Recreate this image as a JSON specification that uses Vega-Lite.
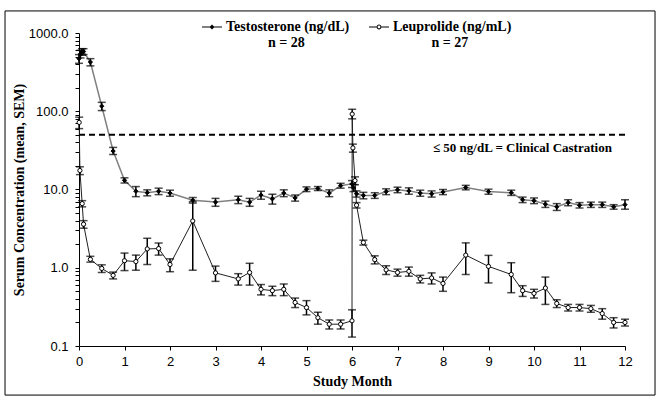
{
  "$schema": "https://vega.github.io/schema/vega-lite/v6.json",
  "width": 546,
  "height": 313,
  "autosize": {"type": "none"},
  "padding": {"left": 79, "top": 33, "right": 46, "bottom": 58},
  "background": "white",
  "config": {"view": {"stroke": null}, "font": "Liberation Serif"},
  "datasets": {"pk": [
    {"s":"T","m":0,"v":470,"lo":410,"hi":530},
    {"s":"T","m":0.033,"v":540,"lo":480,"hi":600},
    {"s":"T","m":0.066,"v":575,"lo":520,"hi":630},
    {"s":"T","m":0.1,"v":580,"lo":530,"hi":630},
    {"s":"T","m":0.25,"v":425,"lo":380,"hi":470},
    {"s":"T","m":0.5,"v":116,"lo":102,"hi":130},
    {"s":"T","m":0.75,"v":31,"lo":28,"hi":34.5},
    {"s":"T","m":1.0,"v":13.1,"lo":12.1,"hi":14.1},
    {"s":"T","m":1.25,"v":9.5,"lo":8.1,"hi":10.9},
    {"s":"T","m":1.5,"v":9.1,"lo":8.3,"hi":9.9},
    {"s":"T","m":1.75,"v":9.5,"lo":8.6,"hi":10.4},
    {"s":"T","m":2.0,"v":9.0,"lo":8.2,"hi":9.8},
    {"s":"T","m":2.5,"v":7.3,"lo":6.7,"hi":7.9},
    {"s":"T","m":3.0,"v":6.9,"lo":6.1,"hi":7.7},
    {"s":"T","m":3.5,"v":7.4,"lo":6.6,"hi":8.2},
    {"s":"T","m":3.75,"v":6.9,"lo":6.1,"hi":7.7},
    {"s":"T","m":4.0,"v":8.5,"lo":7.5,"hi":9.5},
    {"s":"T","m":4.25,"v":7.6,"lo":6.5,"hi":8.7},
    {"s":"T","m":4.5,"v":9.0,"lo":8.1,"hi":9.9},
    {"s":"T","m":4.75,"v":7.8,"lo":7.1,"hi":8.5},
    {"s":"T","m":5.0,"v":10.1,"lo":9.4,"hi":10.8},
    {"s":"T","m":5.25,"v":10.3,"lo":9.7,"hi":10.9},
    {"s":"T","m":5.5,"v":9.0,"lo":8.1,"hi":9.9},
    {"s":"T","m":5.75,"v":11.2,"lo":10.4,"hi":12.0},
    {"s":"T","m":6.0,"v":11.8,"lo":10.6,"hi":13.0},
    {"s":"T","m":6.033,"v":10.5,"lo":9.4,"hi":11.6},
    {"s":"T","m":6.1,"v":8.8,"lo":8.0,"hi":9.6},
    {"s":"T","m":6.25,"v":8.4,"lo":7.6,"hi":9.2},
    {"s":"T","m":6.5,"v":8.4,"lo":7.7,"hi":9.1},
    {"s":"T","m":6.75,"v":9.4,"lo":8.6,"hi":10.2},
    {"s":"T","m":7.0,"v":9.9,"lo":9.1,"hi":10.7},
    {"s":"T","m":7.25,"v":9.6,"lo":8.7,"hi":10.5},
    {"s":"T","m":7.5,"v":9.0,"lo":8.2,"hi":9.8},
    {"s":"T","m":7.75,"v":8.8,"lo":8.0,"hi":9.6},
    {"s":"T","m":8.0,"v":9.3,"lo":8.6,"hi":10.0},
    {"s":"T","m":8.5,"v":10.6,"lo":9.9,"hi":11.3},
    {"s":"T","m":9.0,"v":9.4,"lo":8.7,"hi":10.1},
    {"s":"T","m":9.5,"v":9.1,"lo":8.4,"hi":9.8},
    {"s":"T","m":9.75,"v":7.4,"lo":6.8,"hi":8.0},
    {"s":"T","m":10.0,"v":7.2,"lo":6.6,"hi":7.8},
    {"s":"T","m":10.25,"v":6.5,"lo":5.9,"hi":7.1},
    {"s":"T","m":10.5,"v":6.0,"lo":5.4,"hi":6.6},
    {"s":"T","m":10.75,"v":6.8,"lo":6.2,"hi":7.4},
    {"s":"T","m":11.0,"v":6.3,"lo":5.8,"hi":6.8},
    {"s":"T","m":11.25,"v":6.4,"lo":5.9,"hi":6.9},
    {"s":"T","m":11.5,"v":6.4,"lo":5.9,"hi":6.9},
    {"s":"T","m":11.75,"v":6.0,"lo":5.6,"hi":6.4},
    {"s":"T","m":12.0,"v":6.4,"lo":5.6,"hi":7.4},
    {"s":"L","m":0.004,"v":72,"lo":60,"hi":84},
    {"s":"L","m":0.02,"v":17.5,"lo":15.5,"hi":19.5},
    {"s":"L","m":0.07,"v":6.6,"lo":6.0,"hi":7.2},
    {"s":"L","m":0.1,"v":3.6,"lo":3.2,"hi":4.0},
    {"s":"L","m":0.25,"v":1.28,"lo":1.18,"hi":1.4},
    {"s":"L","m":0.5,"v":0.98,"lo":0.87,"hi":1.09},
    {"s":"L","m":0.75,"v":0.8,"lo":0.72,"hi":0.88},
    {"s":"L","m":1.0,"v":1.23,"lo":0.92,"hi":1.54},
    {"s":"L","m":1.25,"v":1.2,"lo":0.93,"hi":1.45},
    {"s":"L","m":1.5,"v":1.74,"lo":1.1,"hi":2.38},
    {"s":"L","m":1.75,"v":1.76,"lo":1.45,"hi":2.07},
    {"s":"L","m":2.0,"v":1.1,"lo":0.89,"hi":1.3},
    {"s":"L","m":2.5,"v":3.96,"lo":0.93,"hi":6.99},
    {"s":"L","m":3.0,"v":0.86,"lo":0.67,"hi":1.05},
    {"s":"L","m":3.5,"v":0.72,"lo":0.6,"hi":0.84},
    {"s":"L","m":3.75,"v":0.87,"lo":0.6,"hi":1.14},
    {"s":"L","m":4.0,"v":0.53,"lo":0.45,"hi":0.61},
    {"s":"L","m":4.25,"v":0.51,"lo":0.44,"hi":0.58},
    {"s":"L","m":4.5,"v":0.53,"lo":0.44,"hi":0.62},
    {"s":"L","m":4.75,"v":0.36,"lo":0.31,"hi":0.41},
    {"s":"L","m":5.0,"v":0.31,"lo":0.25,"hi":0.38},
    {"s":"L","m":5.25,"v":0.23,"lo":0.19,"hi":0.27},
    {"s":"L","m":5.5,"v":0.19,"lo":0.165,"hi":0.215},
    {"s":"L","m":5.75,"v":0.19,"lo":0.165,"hi":0.215},
    {"s":"L","m":6.0,"v":0.21,"lo":0.13,"hi":0.29},
    {"s":"L","m":6.004,"v":92,"lo":80,"hi":106},
    {"s":"L","m":6.02,"v":34,"lo":30,"hi":38},
    {"s":"L","m":6.066,"v":13,"lo":11.5,"hi":14.5},
    {"s":"L","m":6.1,"v":6.3,"lo":5.8,"hi":6.8},
    {"s":"L","m":6.25,"v":2.1,"lo":1.95,"hi":2.25},
    {"s":"L","m":6.5,"v":1.27,"lo":1.12,"hi":1.42},
    {"s":"L","m":6.75,"v":0.94,"lo":0.82,"hi":1.06},
    {"s":"L","m":7.0,"v":0.87,"lo":0.78,"hi":0.96},
    {"s":"L","m":7.25,"v":0.9,"lo":0.78,"hi":1.02},
    {"s":"L","m":7.5,"v":0.72,"lo":0.64,"hi":0.8},
    {"s":"L","m":7.75,"v":0.74,"lo":0.62,"hi":0.86},
    {"s":"L","m":8.0,"v":0.63,"lo":0.5,"hi":0.76},
    {"s":"L","m":8.5,"v":1.45,"lo":0.82,"hi":2.08},
    {"s":"L","m":9.0,"v":1.04,"lo":0.64,"hi":1.44},
    {"s":"L","m":9.5,"v":0.82,"lo":0.48,"hi":1.16},
    {"s":"L","m":9.75,"v":0.51,"lo":0.43,"hi":0.59},
    {"s":"L","m":10.0,"v":0.47,"lo":0.41,"hi":0.53},
    {"s":"L","m":10.25,"v":0.55,"lo":0.34,"hi":0.76},
    {"s":"L","m":10.5,"v":0.35,"lo":0.31,"hi":0.39},
    {"s":"L","m":10.75,"v":0.31,"lo":0.28,"hi":0.34},
    {"s":"L","m":11.0,"v":0.31,"lo":0.28,"hi":0.34},
    {"s":"L","m":11.25,"v":0.3,"lo":0.27,"hi":0.33},
    {"s":"L","m":11.5,"v":0.26,"lo":0.22,"hi":0.3},
    {"s":"L","m":11.75,"v":0.2,"lo":0.17,"hi":0.23},
    {"s":"L","m":12.0,"v":0.2,"lo":0.18,"hi":0.22}
  ]},
  "layer": [
    {
      "data": {"name": "pk"},
      "transform": [{"filter": "datum.s == 'T'"}],
      "mark": {"type": "line", "stroke": "#808080", "strokeWidth": 1.5},
      "encoding": {
        "x": {
          "field": "m", "type": "quantitative",
          "scale": {"domain": [0, 12], "nice": false, "zero": false},
          "axis": {
            "title": "Study Month", "values": [0,1,2,3,4,5,6,7,8,9,10,11,12], "grid": false,
            "domainColor": "black", "tickColor": "black", "tickSize": 4, "labelFlush": false,
            "labelFont": "Liberation Sans", "labelFontSize": 13, "labelColor": "black", "labelPadding": 5,
            "titleFont": "Liberation Serif", "titleFontSize": 14, "titleFontWeight": "bold", "titleColor": "black", "titlePadding": 6
          }
        },
        "y": {
          "field": "v", "type": "quantitative",
          "scale": {"type": "log", "domain": [0.1, 1000], "nice": false},
          "axis": {
            "title": "Serum Concentration (mean, SEM)", "grid": false,
            "values": [0.1,0.2,0.3,0.4,0.5,0.6,0.7,0.8,0.9,1,2,3,4,5,6,7,8,9,10,20,30,40,50,60,70,80,90,100,200,300,400,500,600,700,800,900,1000],
            "labelExpr": "(abs(log(datum.value)/LN10 - round(log(datum.value)/LN10)) < 0.0001) ? format(datum.value, '.1f') : ''",
            "labelOverlap": false, "labelBound": false,
            "domainColor": "black", "tickColor": "black", "tickSize": 4,
            "labelFont": "Liberation Sans", "labelFontSize": 13, "labelColor": "black", "labelPadding": 7,
            "titleFont": "Liberation Serif", "titleFontSize": 14, "titleFontWeight": "bold", "titleColor": "black",
            "titleAngle": -90, "titleX": -60, "titleY": 156.5, "titleBaseline": "middle", "titleAlign": "center"
          }
        }
      }
    },
    {
      "data": {"name": "pk"},
      "transform": [{"filter": "datum.s == 'L'"}],
      "mark": {"type": "line", "stroke": "#202020", "strokeWidth": 1},
      "encoding": {"x": {"field": "m", "type": "quantitative"}, "y": {"field": "v", "type": "quantitative"}}
    },
    {
      "data": {"values": [{}]},
      "mark": {"type": "rect", "fill": null, "stroke": "black", "strokeWidth": 1, "clip": false},
      "encoding": {
        "x": {"datum": -1.626}, "x2": {"datum": 12.66},
        "y": {"datum": 1914}, "y2": {"datum": 0.0236}
      }
    },
    {
      "data": {"values": [{}]},
      "mark": {"type": "rule", "color": "black", "strokeWidth": 2, "strokeDash": [6, 4]},
      "encoding": {"y": {"datum": 50}}
    },
    {
      "data": {"values": [{}]},
      "mark": {"type": "text", "text": "≤ 50 ng/dL = Clinical Castration", "align": "left", "baseline": "middle", "font": "Liberation Serif", "fontSize": 13, "fontWeight": "bold", "color": "black"},
      "encoding": {"x": {"datum": 7.78}, "y": {"datum": 33.6}}
    },
    {
      "data": {"name": "pk"},
      "mark": {"type": "rule", "color": "black", "strokeWidth": 1.5},
      "encoding": {"x": {"field": "m", "type": "quantitative"}, "y": {"field": "lo", "type": "quantitative"}, "y2": {"field": "hi"}}
    },
    {
      "data": {"name": "pk"},
      "mark": {"type": "tick", "orient": "horizontal", "size": 8, "thickness": 1.5, "color": "black"},
      "encoding": {"x": {"field": "m", "type": "quantitative"}, "y": {"field": "lo", "type": "quantitative"}}
    },
    {
      "data": {"name": "pk"},
      "mark": {"type": "tick", "orient": "horizontal", "size": 8, "thickness": 1.5, "color": "black"},
      "encoding": {"x": {"field": "m", "type": "quantitative"}, "y": {"field": "hi", "type": "quantitative"}}
    },
    {
      "data": {"name": "pk"},
      "transform": [{"filter": "datum.s == 'T'"}],
      "mark": {"type": "point", "shape": "diamond", "filled": true, "fill": "black", "size": 18, "stroke": "black", "strokeWidth": 1, "opacity": 1},
      "encoding": {"x": {"field": "m", "type": "quantitative"}, "y": {"field": "v", "type": "quantitative"}}
    },
    {
      "data": {"name": "pk"},
      "transform": [{"filter": "datum.s == 'L'"}],
      "mark": {"type": "point", "shape": "circle", "filled": true, "fill": "white", "size": 18, "stroke": "black", "strokeWidth": 1, "opacity": 1},
      "encoding": {"x": {"field": "m", "type": "quantitative"}, "y": {"field": "v", "type": "quantitative"}}
    },
    {
      "data": {"values": [{"s": "T"}, {"s": "L"}]},
      "transform": [{"filter": "false"}],
      "mark": {"type": "point", "filled": true, "stroke": "black", "strokeWidth": 1, "opacity": 1},
      "encoding": {
        "x": {"field": "m", "type": "quantitative"},
        "y": {"field": "v", "type": "quantitative"},
        "fill": {"field": "s", "type": "nominal", "scale": {"domain": ["T", "L"], "range": ["black", "black"]}},
        "shape": {
          "field": "s", "type": "nominal",
          "scale": {"domain": ["T", "L"], "range": [
            "M-1,-0.05L1,-0.05L1,0.05L-1,0.05Z M0,-0.25L0.25,0L0,0.25L-0.25,0Z",
            "M-1,-0.05L-0.24,-0.05L-0.24,0.05L-1,0.05Z M0.24,-0.05L1,-0.05L1,0.05L0.24,0.05Z M0.24,0A0.24,0.24 0 1,1 -0.24,0A0.24,0.24 0 1,1 0.24,0Z M0.14,0A0.14,0.14 0 1,0 -0.14,0A0.14,0.14 0 1,0 0.14,0Z"
          ]},
          "legend": {
            "orient": "none", "legendX": 123, "legendY": -16, "direction": "horizontal", "title": null,
            "padding": 0, "columnPadding": 19, "labelOffset": 4, "labelLimit": 300,
            "symbolSize": 400, "symbolStrokeWidth": 0, "symbolOpacity": 1,
            "labelFont": "Liberation Serif", "labelFontSize": 14, "labelFontWeight": "bold", "labelColor": "black",
            "labelExpr": "datum.value == 'T' ? ['Testosterone (ng/dL)', '\u200b\u00a0\u00a0\u00a0\u00a0\u00a0\u00a0\u00a0\u00a0\u00a0\u00a0\u00a0\u00a0n = 28'] : ['Leuprolide (ng/mL)', '\u200b\u00a0\u00a0\u00a0\u00a0\u00a0\u00a0\u00a0\u00a0\u00a0\u00a0\u00a0n = 27']",
            "encode": {
              "labels": {"lineHeight": {"value": 17}}
            }
          }
        }
      }
    }
  ]
}
